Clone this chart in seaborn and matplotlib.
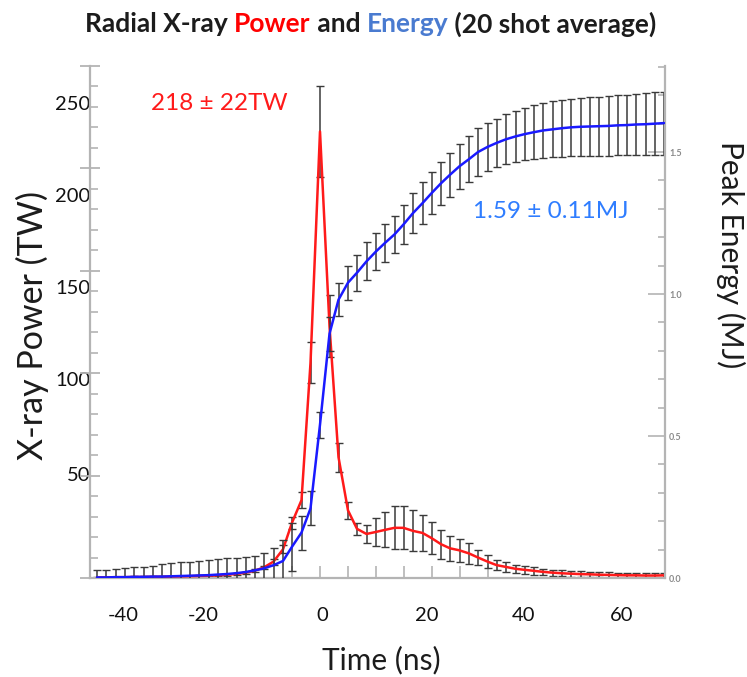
import numpy as np
import matplotlib
matplotlib.use("Agg")
import matplotlib.pyplot as plt
import seaborn as sns
from matplotlib.ticker import FixedLocator, MultipleLocator, NullFormatter
from matplotlib.offsetbox import TextArea, HPacker, AnchoredOffsetbox

# ---------------- data ----------------
time_ns = [-44.6, -42.8, -40.9, -39.1, -37.2, -35.3, -33.5, -31.6, -29.8, -27.9,
           -26.0, -24.2, -22.3, -20.5, -18.6, -16.7, -14.9, -13.0, -11.2, -9.3,
           -7.4, -5.6, -3.7, -1.9, 0.0, 1.9, 3.7, 5.6, 7.4, 9.3,
           11.2, 13.0, 14.9, 16.7, 18.6, 20.5, 22.3, 24.2, 26.0, 27.9,
           29.8, 31.6, 33.5, 35.3, 37.2, 39.1, 40.9, 42.8, 44.6, 46.5,
           48.4, 50.2, 52.1, 53.9, 55.8, 57.7, 59.5, 61.4, 63.2, 65.1,
           67.0, 68.8]

power_tw = [0.3, 0.3, 0.4, 0.4, 0.5, 0.5, 0.6, 0.6, 0.7, 0.8,
            0.9, 1.0, 1.1, 1.3, 1.6, 2.0, 2.6, 3.6, 5.2, 8.0,
            14.0, 27.0, 38.0, 105.0, 218.0, 123.0, 59.0, 33.0, 24.0, 21.5,
            22.5, 23.5, 24.5, 24.5, 23.0, 22.0, 19.5, 16.5, 14.5, 13.5,
            12.0, 10.0, 8.0, 6.3, 5.4, 4.5, 4.0, 3.5, 3.0, 2.6,
            2.3, 2.1, 1.9, 1.8, 1.6, 1.5, 1.4, 1.3, 1.3, 1.2,
            1.2, 1.3]

power_err = [0.3, 0.3, 0.3, 0.3, 0.3, 0.3, 0.3, 0.3, 0.3, 0.3,
             0.3, 0.3, 0.3, 0.4, 0.4, 0.5, 0.5, 0.6, 0.8, 1.5,
             2.0, 3.0, 4.0, 10.0, 22.0, 15.0, 7.0, 4.0, 3.0, 4.5,
             7.0, 8.5, 10.5, 10.5, 10.0, 9.0, 8.0, 7.0, 6.0, 5.5,
             5.0, 3.7, 3.0, 2.5, 2.5, 2.0, 2.0, 1.8, 1.6, 1.5,
             1.5, 1.4, 1.4, 1.3, 1.3, 1.3, 1.2, 1.2, 1.2, 1.2,
             1.2, 1.2]

energy_mj = [0.002, 0.002, 0.003, 0.003, 0.004, 0.004, 0.005, 0.005, 0.006, 0.007,
             0.008, 0.009, 0.010, 0.012, 0.014, 0.017, 0.021, 0.027, 0.034, 0.045,
             0.060, 0.110, 0.160, 0.245, 0.540, 0.860, 0.980, 1.040, 1.075, 1.115,
             1.150, 1.180, 1.210, 1.245, 1.285, 1.320, 1.355, 1.390, 1.420, 1.450,
             1.475, 1.500, 1.518, 1.532, 1.545, 1.555, 1.563, 1.570, 1.576, 1.580,
             1.584, 1.587, 1.589, 1.590, 1.591, 1.592, 1.594, 1.595, 1.597, 1.598,
             1.600, 1.602]

energy_err = [0.026, 0.026, 0.030, 0.032, 0.035, 0.035, 0.037, 0.044, 0.046, 0.049,
              0.048, 0.051, 0.054, 0.055, 0.056, 0.055, 0.053, 0.050, 0.054, 0.060,
              0.074, 0.085, 0.060, 0.060, 0.046, 0.060, 0.058, 0.060, 0.063, 0.067,
              0.065, 0.067, 0.066, 0.068, 0.070, 0.073, 0.074, 0.076, 0.078, 0.079,
              0.081, 0.083, 0.085, 0.086, 0.088, 0.090, 0.092, 0.094, 0.096, 0.098,
              0.100, 0.101, 0.102, 0.103, 0.104, 0.105, 0.106, 0.107, 0.108, 0.109,
              0.110, 0.111]

# tick labels as printed in the picture (and where they sit)
x_tick_labels = ["-40", "-20", "0", "20", "40", "60"]
x_label_pos = [-39.4, -23.4, 0.4, 21.4, 40.8, 60.4]
x_tick_marks = [-5.6, 0.0, 5.6, 11.2, 16.7, 22.3, 27.9, 33.5]

power_tick_labels = ["50", "100", "150", "200", "250"]
power_label_pos = [51, 97, 142, 187, 232]

energy_ticks = [0.0, 0.5, 1.0, 1.5]
energy_tick_labels = ["0.0", "0.5", "1.0", "1.5"]

title_parts = ["Radial X-ray ", "Power", " and ", "Energy", " (20 shot average)"]
title_colors = ["#1c1c1c", "#ff0000", "#1c1c1c", "#4a7bd0", "#1c1c1c"]

power_note = "218 \u00b1 22TW"
energy_note = "1.59 \u00b1 0.11MJ"

# ---------------- style ----------------
sns.set_theme(style="white")
plt.rcParams["font.family"] = ["Lato", "DejaVu Sans"]

W, H = 747, 677
fig = plt.figure(figsize=(W / 100, H / 100), dpi=100)
fig.patch.set_facecolor("white")
ax = fig.add_axes([90 / W, 1 - 578 / H, 575 / W, 512 / H])
ax2 = ax.twinx()

spine_col = "#b4b4b4"
err_col = "#3a3a3a"

# ---------------- power (left axis) ----------------
ax.errorbar(time_ns, power_tw, yerr=power_err, fmt="none", ecolor=err_col,
            elinewidth=1.1, capsize=2.6, capthick=1.0, zorder=2)
sns.lineplot(x=time_ns, y=power_tw, ax=ax, color="#ff1a1a", linewidth=1.8,
             zorder=3, legend=False)
ax.set_xlim(-46, 69)
ax.set_ylim(0, 250)

# ---------------- energy (right axis) ----------------
ax2.errorbar(time_ns, energy_mj, yerr=energy_err, fmt="none", ecolor=err_col,
             elinewidth=1.1, capsize=2.6, capthick=1.0, zorder=2)
sns.lineplot(x=time_ns, y=energy_mj, ax=ax2, color="#1a1aff", linewidth=1.8,
             zorder=3, legend=False)
ax2.set_ylim(0, 1.803)
ax2.set_xlim(-46, 69)

# ---------------- spines & ticks ----------------
for a in (ax, ax2):
    for s in a.spines.values():
        s.set_visible(False)
    a.grid(False)
    a.set_xlabel("")
    a.set_ylabel("")
ax.spines["left"].set_visible(True)
ax.spines["bottom"].set_visible(True)
ax2.spines["right"].set_visible(True)
for s in (ax.spines["left"], ax.spines["bottom"], ax2.spines["right"]):
    s.set_color(spine_col)
    s.set_linewidth(1.6)

# left axis marks: long at 50s, short at 10s; labels on a secondary axis
ax.yaxis.set_major_locator(MultipleLocator(50))
ax.yaxis.set_minor_locator(MultipleLocator(10))
ax.yaxis.set_major_formatter(NullFormatter())
ax.tick_params(axis="y", which="major", direction="inout", length=14, width=1.3,
               color=spine_col, left=True, right=False)
ax.tick_params(axis="y", which="minor", direction="in", length=6, width=1.2,
               color=spine_col, left=True, right=False)

# bottom axis marks
ax.xaxis.set_major_locator(FixedLocator(x_tick_marks))
ax.xaxis.set_major_formatter(NullFormatter())
ax.tick_params(axis="x", which="major", direction="in", length=9, width=1.2,
               color=spine_col, bottom=True, top=False)

# label axes (tick labels where the picture places them)
secy = ax.secondary_yaxis("left")
secy.set_yticks(power_label_pos, power_tick_labels)
secy.tick_params(length=0, pad=0, labelsize=14.5, labelcolor="#111111")
secy.spines["left"].set_visible(False)

secx = ax.secondary_xaxis("bottom")
secx.set_xticks(x_label_pos, x_tick_labels)
secx.tick_params(length=0, pad=21, labelsize=14.5, labelcolor="#111111")
secx.spines["bottom"].set_visible(False)

# right axis
ax2.yaxis.set_major_locator(FixedLocator(energy_ticks))
ax2.set_yticklabels(energy_tick_labels)
ax2.yaxis.set_minor_locator(MultipleLocator(0.1))
ax2.tick_params(axis="y", which="major", direction="in", length=12, width=1.2,
                color=spine_col, labelsize=6.5, labelcolor="#8a8a8a", pad=3,
                right=True, left=False)
ax2.tick_params(axis="y", which="minor", direction="in", length=5, width=1.2,
                color=spine_col, right=True, left=False)
for lab in ax2.get_yticklabels():
    lab.set_fontweight("bold")
ax2.tick_params(axis="x", bottom=False, top=False, labelbottom=False)

# ---------------- text ----------------
fig.text(32 / W, 1 - 325 / H, "X-ray Power (TW)", rotation=90, ha="center", va="center",
         fontsize=24.5, color="#1c1c1c")
fig.text(731 / W, 1 - 255 / H, "Peak Energy (MJ)", rotation=-90, ha="center", va="center",
         fontsize=21.5, color="#1c1c1c")
fig.text(381 / W, 1 - 660 / H, "Time (ns)", ha="center", va="center",
         fontsize=21.5, color="#1c1c1c")

fig.text(219 / W, 1 - 104 / H, power_note, ha="center", va="center",
         fontsize=17.5, color="#ff1a1a")
fig.text(551 / W, 1 - 212 / H, energy_note, ha="center", va="center",
         fontsize=17.5, color="#2f7dff")

boxes = [TextArea(s, textprops=dict(color=c, fontsize=19, fontweight="bold"))
         for s, c in zip(title_parts, title_colors)]
pack = HPacker(children=boxes, align="baseline", pad=0, sep=0)
anchored = AnchoredOffsetbox(loc="center", child=pack, pad=0, borderpad=0, frameon=False,
                             bbox_to_anchor=(371 / W, 1 - 24 / H),
                             bbox_transform=fig.transFigure)
fig.add_artist(anchored)

fig.savefig("out.png", dpi=100, facecolor="white")
